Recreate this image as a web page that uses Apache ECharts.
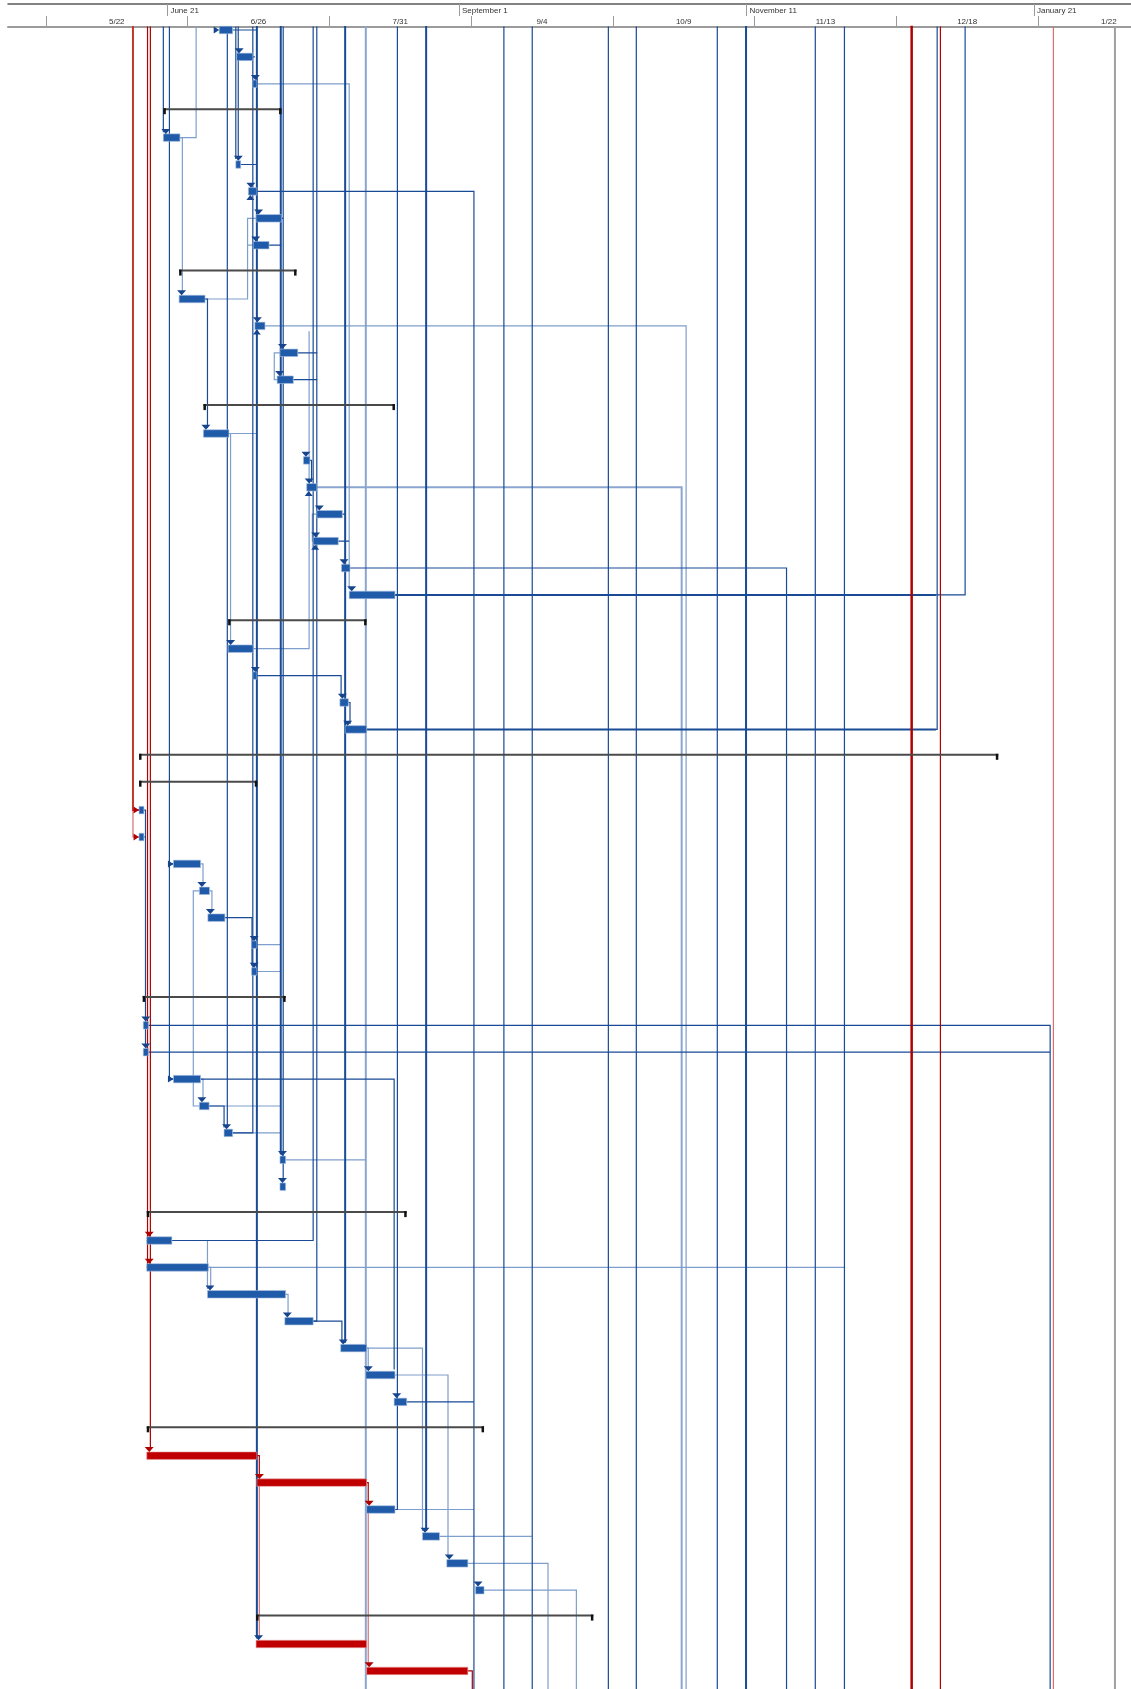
<!DOCTYPE html>
<html><head><meta charset="utf-8">
<script src="https://cdn.jsdelivr.net/npm/echarts@6/dist/echarts.min.js"></script>
<style>html,body{margin:0;padding:0;background:#fff}#c{width:1131px;height:1689px}</style>
</head><body><div id="c"></div>
<script>
// ---- Timescale (day offsets from 5/22) ----
const lowerTickDays = [0, 35, 70, 105, 140, 175, 210, 245];
const lowerTickLabels = ['5/22', '6/26', '7/31', '9/4', '10/9', '11/13', '12/18', '1/22'];
const upperTickDays = [30, 102, 173, 244];
const upperTickLabels = ['June 21', 'September 1', 'November 11', 'January 21'];

// ---- Task bars ----
const taskRow   = [1, 2, 3, 5, 6, 7, 8, 9, 11, 12, 13, 14, 16, 17, 18, 19, 20, 21, 22, 24, 25, 26, 27, 30, 31, 32, 33, 34, 35, 36, 38, 39, 40, 41, 42, 43, 44, 46, 47, 48, 49, 50, 51, 52, 54, 55, 56, 57, 58, 59, 61, 62];
const taskStart = [42.8, 47.1, 51.1, 29.0, 46.9, 50.0, 51.9, 51.2, 32.9, 51.6, 57.8, 57.1, 38.9, 63.6, 64.4, 66.9, 66.0, 73.0, 74.9, 45.0, 51.1, 72.6, 73.9, 23.0, 23.0, 31.5, 37.9, 40.0, 50.8, 50.8, 24.05, 24.05, 31.5, 37.9, 44.0, 57.8, 57.8, 24.9, 24.9, 39.9, 59.0, 72.8, 79.0, 86.0, 24.9, 52.1, 79.2, 93.0, 99.0, 106.1, 51.9, 79.2];
const taskEnd   = [46.1, 51.1, 52.1, 33.1, 48.1, 52.1, 58.2, 55.1, 39.3, 54.1, 62.2, 61.1, 45.2, 65.2, 66.9, 73.2, 72.2, 75.1, 86.2, 51.2, 52.1, 74.7, 79.2, 24.2, 24.2, 38.2, 40.4, 44.2, 52.1, 52.1, 25.3, 25.3, 38.2, 40.3, 46.1, 59.2, 59.2, 31.1, 40.1, 59.2, 66.0, 79.2, 86.2, 89.1, 52.1, 79.2, 86.2, 97.2, 104.2, 108.2, 79.2, 104.2];
const criticalRows = [54, 55, 61, 62];

// ---- Summary bars ----
const summaryRow   = [4, 10, 15, 23, 28, 29, 37, 45, 53, 60];
const summaryStart = [29.0, 32.9, 38.9, 45.0, 23.0, 23.0, 23.9, 24.9, 24.9, 51.9];
const summaryEnd   = [58.2, 61.9, 86.2, 79.2, 235.2, 52.2, 59.2, 89.1, 108.2, 135.2];

// ---- Link arrowheads (rows whose bar start receives a link) ----
const arrowDownBlue = [2, 3, 5, 6, 7, 8, 9, 11, 12, 13, 14, 16, 17, 18, 19, 20, 21, 22, 24, 25, 26, 27, 33, 34, 35, 36, 38, 39, 41, 42, 43, 44, 48, 49, 50, 51, 52, 57, 58, 59, 61];
const arrowDownRed  = [46, 47, 54, 55, 56, 62];
const arrowUpBlue   = [7, 12, 18, 20];
const arrowRightBlue = [1, 32, 40];
const arrowRightRed  = [30, 31];

// ---- Dependency links: polylines of [day, row] ----
const linksDark = [
  [[29.0,0],[29.0,4.8]], [[30.5,0],[30.5,40],[31.5,40]], [[30.5,32],[31.5,32]],
  [[44.8,0],[44.8,41.8]], [[46.9,0],[46.9,5.8]], [[47.5,0],[47.5,5.8]],
  [[51.1,0],[51.1,42],[46.1,42]], [[58.6,0],[58.6,43.8]],
  [[66.0,0],[66.0,46],[31.1,46]], [[66.9,0],[66.9,49],[66.0,49]],
  [[86.8,0],[86.8,56],[86.2,56]],
  [[113.1,0],[113.1,63]], [[120.1,0],[120.1,63]], [[138.9,0],[138.9,63]], [[145.8,0],[145.8,63]],
  [[165.8,0],[165.8,63]], [[190.0,0],[190.0,63]], [[197.2,0],[197.2,63]],
  [[220.1,0],[220.1,27],[219.8,27]], [[227.0,0],[227.0,22],[219.8,22]],
  [[52.1,7],[105.7,7],[105.7,63]],
  [[25.3,38],[248.0,38],[248.0,63]], [[25.3,39],[248.0,39]],
  [[46.1,1],[52.1,1]], [[51.1,2],[51.6,2]], [[48.1,6],[51.9,6]],
  [[58.2,8],[58.6,8]], [[55.1,9],[58.2,9]],
  [[39.3,11],[39.9,11],[39.9,15.8]],
  [[62.2,13],[67.0,13]], [[61.1,14],[67.0,14]],
  [[65.2,17],[65.6,17],[65.6,17.8]],
  [[73.2,19],[73.9,19]], [[72.2,20],[74.9,20]],
  [[75.1,21],[182.9,21],[182.9,63]],
  [[52.1,25],[72.9,25],[72.9,25.8]], [[74.7,26],[75.1,26],[75.1,26.8]],
  [[24.2,30],[24.6,30],[24.6,38.8]], [[24.2,31],[24.6,31]],
  [[44.2,34],[50.9,34],[50.9,35.8]],
  [[38.2,40],[86.0,40],[86.0,50.8]],
  [[40.3,41],[44.0,41],[44.0,41.8]],
  [[66.0,49],[73.1,49],[73.1,49.8]],
  [[89.1,52],[105.7,52]]
];
const linksDarkBold = [
  [[52.1,0],[52.1,60.8]], [[58.0,0],[58.0,42.8]], [[73.9,0],[73.9,49.8]],
  [[93.9,0],[93.9,56.8]], [[172.9,0],[172.9,63]],
  [[86.2,22],[219.8,22]], [[79.2,27],[219.8,27]]
];
const linksLight = [
  [[37.1,0],[37.1,5],[33.1,5]], [[33.1,5],[33.7,5],[33.7,10.8]],
  [[39.3,11],[49.8,11],[49.8,8],[51.9,8]], [[49.8,9],[51.2,9]],
  [[54.1,12],[158.1,12],[158.1,63]],
  [[57.8,13],[56.4,13],[56.4,14],[57.1,14]],
  [[45.2,16],[52.1,16]], [[45.2,16],[45.6,16],[45.6,23.8]],
  [[66.9,19],[65.8,19],[65.8,20],[66.0,20]],
  [[52.1,3],[74.9,3],[74.9,21.8]],
  [[51.2,24],[65.0,24],[65.0,12.2]],
  [[38.2,32],[38.8,32],[38.8,32.8]], [[40.4,33],[41.0,33],[41.0,33.8]],
  [[37.9,33],[36.4,33],[36.4,41],[37.9,41]],
  [[52.1,35],[58.0,35]], [[52.1,36],[58.0,36]],
  [[38.2,40],[38.8,40],[38.8,40.8]],
  [[40.3,41],[58.0,41]], [[46.1,42],[58.0,42]], [[59.2,43],[79.0,43]],
  [[39.9,46],[39.9,47.8]], [[40.1,47],[40.7,47],[40.7,47.8]], [[40.1,47],[197.2,47]],
  [[59.2,48],[59.8,48],[59.8,48.8]],
  [[79.2,50],[79.6,50],[79.6,50.8]], [[79.2,50],[93.0,50],[93.0,56.8]],
  [[86.2,51],[99.3,51],[99.3,57.8]],
  [[86.2,56],[105.7,56]], [[97.2,57],[120.0,57]],
  [[104.2,58],[124.0,58],[124.0,63]], [[108.2,59],[131.0,59],[131.0,63]]
];
const linksLightBold = [
  [[79.0,0],[79.0,63]], [[66.9,18],[157.0,18],[157.0,63]]
];
const linksRed = [
  [[25.1,0],[25.1,47],[24.9,47]], [[25.8,0],[25.8,53.8]], [[25.8,46],[24.9,46]],
  [[52.1,54],[52.7,54],[52.7,54.8]], [[79.2,55],[79.6,55],[79.6,55.8]],
  [[104.2,62],[105.3,62],[105.3,63]], [[220.9,0],[220.9,63]]
];
const linksRedMid = [ [[21.5,0],[21.5,30],[23.0,30]] ];
const linksRedBold = [ [[213.8,0],[213.8,63]] ];
const linksLightRed = [
  [[21.5,30],[21.5,31],[23.0,31]], [[52.7,55],[52.7,60.8]], [[79.6,56],[79.6,61.8]],
  [[248.8,0],[248.8,63]]
];
const statusLine = [ [[264.0,0],[264.0,63]] ];

// ---- Layout constants ----
const PX_LEFT = 8, ORIGIN_X = 45.9, PX_PER_DAY = 4.0494, W = 1131;
const X_MIN = (PX_LEFT - ORIGIN_X) / PX_PER_DAY;
const X_MAX = (W - ORIGIN_X) / PX_PER_DAY;
const TOP = 27, ROW_H = 26.9, H = 1689;
const Y_MIN = 1 - 3 / ROW_H;
const Y_MAX = Y_MIN + (H - TOP) / ROW_H;

const BLUE = '#1F5BA8', RED = '#C00000';

function linkSeries(list, color, width, z) {
  return {
    type: 'lines', coordinateSystem: 'cartesian2d', polyline: true, silent: true,
    z: z || 2, animation: false,
    lineStyle: { color: color, width: width, opacity: 1, cap: 'butt', join: 'miter' },
    data: list.map(c => ({ coords: c }))
  };
}
function startOf(r) { return taskStart[taskRow.indexOf(r)]; }

const chart = echarts.init(document.getElementById('c'), null, { renderer: 'canvas' });
chart.setOption({
  animation: false,
  backgroundColor: '#ffffff',
  grid: { left: PX_LEFT, right: 0, top: TOP, bottom: 0, containLabel: false },
  xAxis: [
    {
      type: 'value', position: 'top', min: X_MIN, max: X_MAX,
      axisLine: { show: true, lineStyle: { color: '#9B9B9B', width: 2 } },
      axisTick: { show: true, customValues: lowerTickDays, length: 11, lineStyle: { color: '#9B9B9B', width: 1 } },
      axisLabel: {
        show: true, customValues: lowerTickDays.map(d => d + 17.5),
        formatter: v => { const i = lowerTickDays.findIndex(d => Math.abs(d + 17.5 - v) < 0.01); return i >= 0 ? lowerTickLabels[i] : ''; },
        fontSize: 8, color: '#333', margin: 1, fontFamily: 'Liberation Sans'
      },
      splitLine: { show: false }
    },
    {
      type: 'value', position: 'top', offset: 23, min: X_MIN, max: X_MAX,
      axisLine: { show: true, lineStyle: { color: '#595959', width: 1.5 } },
      axisTick: { show: true, inside: true, customValues: upperTickDays, length: 12, lineStyle: { color: '#9B9B9B', width: 1 } },
      axisLabel: {
        show: true, inside: true, customValues: upperTickDays,
        formatter: v => { const i = upperTickDays.findIndex(d => Math.abs(d - v) < 0.01); return i >= 0 ? upperTickLabels[i] : ''; },
        align: 'left', padding: [0, 0, 0, 3], fontSize: 8, color: '#333', margin: 3, fontFamily: 'Liberation Sans'
      },
      splitLine: { show: false }
    }
  ],
  yAxis: { type: 'value', inverse: true, min: Y_MIN, max: Y_MAX, show: false, splitLine: { show: false } },
  series: [
    linkSeries(statusLine, '#A0A0A0', 2, 1),
    linkSeries(linksLightBold, '#8AA6D0', 2),
    linkSeries(linksLight, '#7E9ECC', 1.2),
    linkSeries(linksLightRed, '#D77070', 1.2),
    linkSeries(linksDark, '#184A96', 1.2, 3),
    linkSeries(linksDarkBold, '#184A96', 2, 3),
    linkSeries(linksRed, '#B00000', 1.2, 3),
    linkSeries(linksRedMid, '#C0392B', 2, 3),
    linkSeries(linksRedBold, '#B00000', 2.5, 3),
    {
      type: 'custom', z: 5, silent: true, animation: false,
      encode: { x: [1, 2], y: 0 },
      data: summaryRow.map((r, i) => [r, summaryStart[i], summaryEnd[i]]),
      renderItem: (params, api) => {
        const p1 = api.coord([api.value(1), api.value(0)]);
        const p2 = api.coord([api.value(2), api.value(0)]);
        const y = p1[1];
        return { type: 'group', children: [
          { type: 'rect', shape: { x: p1[0], y: y - 2.5, width: p2[0] - p1[0], height: 2 }, style: { fill: '#4A4A4A' } },
          { type: 'rect', shape: { x: p1[0], y: y - 2.5, width: 2.5, height: 6 }, style: { fill: '#111' } },
          { type: 'rect', shape: { x: p2[0] - 2.5, y: y - 2.5, width: 2.5, height: 6 }, style: { fill: '#111' } }
        ]};
      }
    },
    {
      type: 'custom', z: 6, silent: true, animation: false,
      encode: { x: [1, 2], y: 0 },
      data: taskRow.map((r, i) => [r, taskStart[i], taskEnd[i], criticalRows.includes(r) ? 1 : 0]),
      renderItem: (params, api) => {
        const p1 = api.coord([api.value(1), api.value(0)]);
        const p2 = api.coord([api.value(2), api.value(0)]);
        const h = 7.5;
        const crit = api.value(3);
        return { type: 'rect', shape: { x: p1[0], y: p1[1] - h / 2, width: Math.max(p2[0] - p1[0], 3.5), height: h },
          style: { fill: crit ? RED : BLUE, stroke: crit ? '#E8A0A0' : '#A9C0E0', lineWidth: 0.6 } };
      }
    },
    {
      type: 'custom', z: 7, silent: true, animation: false,
      encode: { x: 1, y: 0 },
      data: [].concat(
        arrowDownBlue.map(r => [r, startOf(r), 0, 0]),
        arrowDownRed.map(r => [r, startOf(r), 1, 0]),
        arrowRightBlue.map(r => [r, startOf(r), 0, 1]),
        arrowRightRed.map(r => [r, startOf(r), 1, 1]),
        arrowUpBlue.map(r => [r, startOf(r), 0, 2])
      ),
      renderItem: (params, api) => {
        const p = api.coord([api.value(1), api.value(0)]);
        const color = api.value(2) ? '#B00000' : '#16458E';
        const kind = api.value(3);
        let pts;
        if (kind === 1) {
          pts = [[p[0] - 5.5, p[1] - 3.5], [p[0] - 5.5, p[1] + 3.5], [p[0], p[1]]];
        } else if (kind === 2) {
          const x = p[0] + 2, yb = p[1] + 3.7;
          pts = [[x - 4, yb + 5], [x + 4, yb + 5], [x, yb]];
        } else {
          const x = p[0] + 2.5, yt = p[1] - 3.7;
          pts = [[x - 4.5, yt - 5], [x + 4.5, yt - 5], [x, yt]];
        }
        return { type: 'polygon', shape: { points: pts }, style: { fill: color } };
      }
    }
  ]
});
</script>
</body></html>
